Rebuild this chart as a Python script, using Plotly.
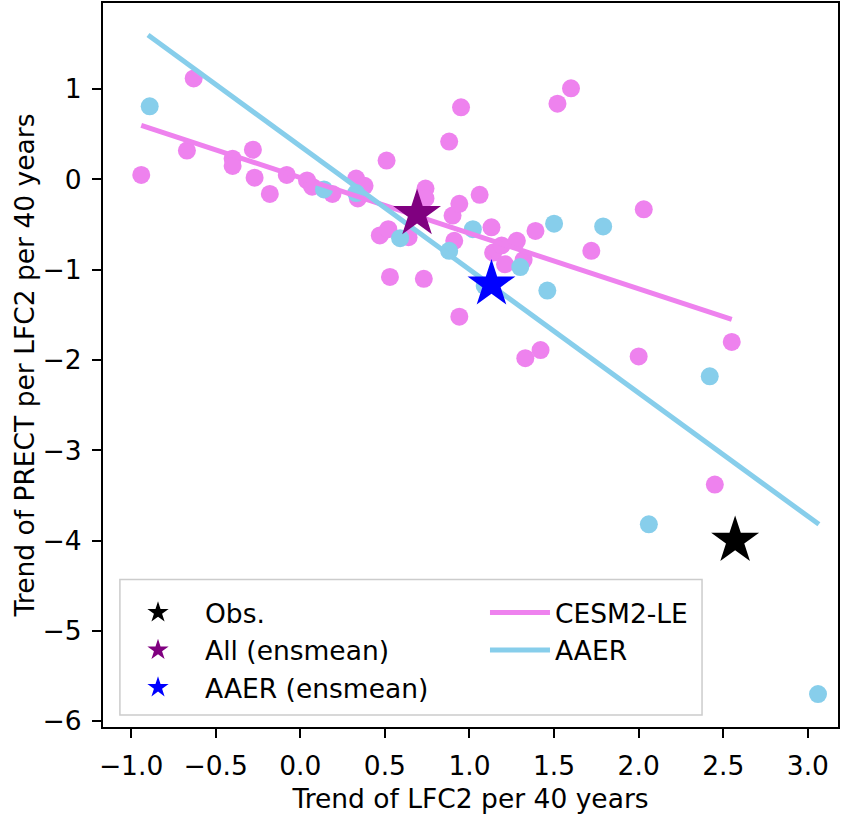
import plotly.graph_objects as go

# ---- data ----
cesm_x = [-0.94, -0.63, -0.67, -0.40, -0.40, -0.28, -0.27, -0.18, -0.08, 0.04,
          0.07, 0.19, 0.33, 0.34, 0.38, 0.51, 0.47, 0.52, 0.53, 0.64,
          0.74, 0.74, 0.73, 0.88, 0.95, 0.90, 0.94, 0.91, 0.94, 1.06,
          1.13, 1.14, 1.19, 1.21, 1.28, 1.39, 1.42, 1.33, 1.52, 1.60,
          1.72, 2.03, 2.00, 2.45, 2.55, 1.32]
cesm_y = [0.05, 1.12, 0.32, 0.23, 0.15, 0.33, 0.02, -0.16, 0.05, -0.01,
          -0.08, -0.16, 0.01, -0.21, -0.07, 0.21, -0.62, -0.55, -1.08, -0.64,
          -0.10, -0.21, -1.10, 0.42, 0.80, -0.40, -0.27, -0.68, -1.52, -0.17,
          -0.53, -0.81, -0.73, -0.94, -0.68, -0.57, -1.89, -1.98, 0.84, 1.01,
          -0.79, -0.33, -1.96, -3.38, -1.80, -0.89]

aaer_x = [-0.89, 0.14, 0.33, 0.59, 0.88, 1.02, 1.09, 1.30, 1.50, 1.46,
          1.79, 2.42, 2.06, 3.06]
aaer_y = [0.81, -0.11, -0.15, -0.65, -0.79, -0.55, -1.18, -0.97, -0.49, -1.23,
          -0.52, -2.18, -3.82, -5.70]

# regression lines (end points)
cesm_fit_x = [-0.94, 2.55]
cesm_fit_y = [0.60, -1.55]
aaer_fit_x = [-0.90, 3.065]
aaer_fit_y = [1.60, -3.82]

obs_x, obs_y = [2.57], [-4.00]
all_mean_x, all_mean_y = [0.69], [-0.38]
aaer_mean_x, aaer_mean_y = [1.13], [-1.16]

x_ticks = [-1.0, -0.5, 0.0, 0.5, 1.0, 1.5, 2.0, 2.5, 3.0]
y_ticks = [1, 0, -1, -2, -3, -4, -5, -6]

VIOLET = "#EE82EE"
SKY = "#87CEEB"
FONT = dict(family="DejaVu Sans", size=26.5, color="black")

fig = go.Figure()
fig.add_trace(go.Scatter(x=cesm_x, y=cesm_y, mode="markers",
                         marker=dict(color=VIOLET, size=18, line=dict(width=0)),
                         showlegend=False, hoverinfo="skip"))
fig.add_trace(go.Scatter(x=aaer_x, y=aaer_y, mode="markers",
                         marker=dict(color=SKY, size=18, line=dict(width=0)),
                         showlegend=False, hoverinfo="skip"))
fig.add_trace(go.Scatter(x=cesm_fit_x, y=cesm_fit_y, mode="lines", name="CESM2-LE",
                         line=dict(color=VIOLET, width=5), legend="legend2"))
fig.add_trace(go.Scatter(x=aaer_fit_x, y=aaer_fit_y, mode="lines", name="AAER",
                         line=dict(color=SKY, width=5), legend="legend2"))
star = dict(symbol="star", size=36, line=dict(width=0))
fig.add_trace(go.Scatter(x=obs_x, y=obs_y, mode="markers", name="Obs.",
                         marker=dict(color="black", **star), legend="legend"))
fig.add_trace(go.Scatter(x=all_mean_x, y=all_mean_y, mode="markers", name="All (ensmean)",
                         marker=dict(color="#800080", **star), legend="legend"))
fig.add_trace(go.Scatter(x=aaer_mean_x, y=aaer_mean_y, mode="markers", name="AAER (ensmean)",
                         marker=dict(color="#0000FF", **star), legend="legend"))

axis_common = dict(showline=True, linecolor="black", linewidth=2, mirror=True,
                   ticks="outside", ticklen=9, tickwidth=2, tickcolor="black",
                   showgrid=False, zeroline=False, tickfont=FONT, automargin=False,
                   ticklabelstandoff=5)

fig.update_layout(
    width=850, height=815,
    margin=dict(l=103, r=12, t=3, b=88),
    plot_bgcolor="white", paper_bgcolor="white",
    font=FONT,
    xaxis=dict(range=[-1.166, 3.178], tickvals=x_ticks, tickformat=".1f",
               title=dict(text="Trend of LFC2 per 40 years", font=FONT, standoff=10),
               **axis_common),
    yaxis=dict(range=[-6.065, 1.955], tickvals=y_ticks,
               title=dict(text="Trend of PRECT per LFC2 per 40 years", font=FONT, standoff=0),
               **axis_common),
    legend=dict(x=0.0109, y=0.191, xanchor="left", yanchor="top",
                bgcolor="rgba(0,0,0,0)", borderwidth=0, font=FONT,
                itemwidth=84, itemsizing="trace", traceorder="normal"),
    legend2=dict(x=0.5197, y=0.191, xanchor="left", yanchor="top",
                 bgcolor="rgba(0,0,0,0)", borderwidth=0, font=FONT,
                 itemwidth=60, traceorder="normal"),
    shapes=[dict(type="rect", xref="paper", yref="paper",
                 x0=0.023, x1=0.815, y0=0.0166, y1=0.2036,
                 line=dict(color="#cccccc", width=1.5),
                 fillcolor="rgba(255,255,255,0.8)", layer="above")],
)

fig.write_html("out.html", config={"displayModeBar": False},
               post_script="document.body.style.margin='0px';")
